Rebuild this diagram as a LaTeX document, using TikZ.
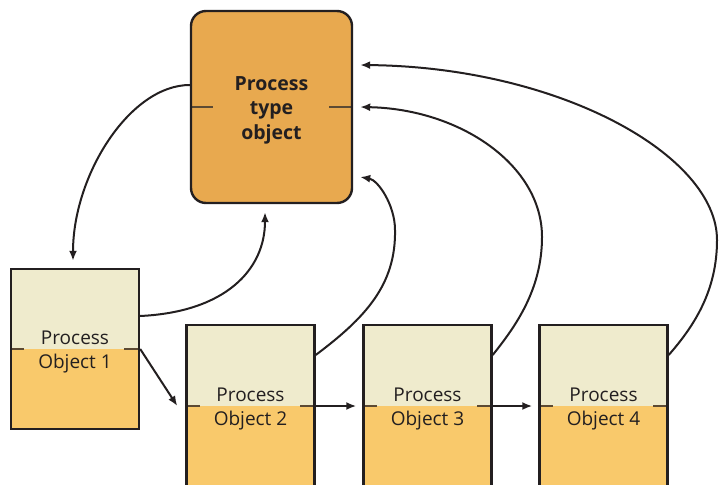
\documentclass[tikz,border=0pt]{standalone}
\usepackage{fontspec}
\setmainfont{Open Sans}
\usetikzlibrary{arrows.meta}
\definecolor{ink}{HTML}{231F20}
\definecolor{typefill}{HTML}{E8A94F}
\definecolor{lightfill}{HTML}{EFEBCD}
\definecolor{orangefill}{HTML}{F9C96B}
\definecolor{tickc}{HTML}{5C4A33}
\begin{document}
\begin{tikzpicture}[x=1pt,y=-1pt,
  typebox/.style={draw=ink, line width=2.4pt, rounded corners=15pt,
    minimum width=161pt, minimum height=192pt, inner sep=0pt,
    path picture={
      \fill[typefill] (path picture bounding box.north west) rectangle (path picture bounding box.south east);
      \draw[tickc, line width=1.3pt] (path picture bounding box.west) -- ++(22,0)
        (path picture bounding box.east) -- ++(-23,0);}},
  typetext/.style={inner sep=0pt, align=center, text=ink,
    font=\bfseries\fontsize{19.5}{24.5}\selectfont},
  procbox/.style={draw=ink, line width=2.4pt, minimum width=128pt, minimum height=160pt,
    inner sep=0pt,
    path picture={
      \fill[lightfill] (path picture bounding box.north west) rectangle (path picture bounding box.east);
      \fill[orangefill] (path picture bounding box.west) rectangle (path picture bounding box.south east);
      \draw[tickc, line width=1.3pt] (path picture bounding box.west) -- ++(13,0)
        (path picture bounding box.east) -- ++(-15,0);}},
  proctext/.style={inner sep=0pt, align=center, text=ink,
    font=\fontsize{19}{24}\selectfont},
  conn/.style={draw=ink, line width=2pt, -{Latex[length=10pt,width=8pt]}},
]
\useasboundingbox (0,0) rectangle (719,484);

\node[typebox] (t) at (271.5,107) {};
\node[typetext] (tt) at ([yshift=-3pt]t.center) {Process\\type\\object};
\node[procbox] (p1) at (75,349) {};
\node[procbox, minimum height=162pt] (p2) at (250.5,406) {};
\node[procbox, minimum height=162pt] (p3) at (427.5,406) {};
\node[procbox, minimum height=162pt] (p4) at (603.5,406) {};
\node[proctext] (p1t) at ([yshift=-3pt]p1.center) {Process\\Object 1};
\node[proctext] (p2t) at ([yshift=-3pt]p2.center) {Process\\Object 2};
\node[proctext] (p3t) at ([yshift=-3pt]p3.center) {Process\\Object 3};
\node[proctext] (p4t) at ([yshift=-3pt]p4.center) {Process\\Object 4};

\draw[conn] ([yshift=22pt]t.west) .. controls (130,85) and (73,175) .. ([xshift=-2pt,yshift=7pt]p1.north);
\draw[conn] ([yshift=33pt]p1.east) .. controls (225,312) and (265,270) .. ([xshift=-6.5pt,yshift=-8pt]t.south);
\draw[conn] (p1.east) -- ([xshift=-8pt]p2.west);
\draw[conn] (p2.east) -- ([xshift=-6pt]p3.west);
\draw[conn] (p3.east) -- ([xshift=-6pt]p4.west);
\draw[conn] ([yshift=51pt]p2.east) .. controls (365,318) and (396,285) .. (395,230)
  .. controls (395,205) and (378,180) .. ([xshift=7pt,yshift=-70pt]t.east);
\draw[conn] ([yshift=51pt]p3.east) .. controls (515,327) and (542,290) .. (542,237)
  .. controls (542,165) and (460,109) .. ([xshift=7pt]t.east);
\draw[conn] ([yshift=51pt]p4.east) .. controls (695,325) and (717,290) .. (717,240)
  .. controls (717,155) and (559,67) .. ([xshift=7pt,yshift=42pt]t.east);
\end{tikzpicture}
\end{document}
